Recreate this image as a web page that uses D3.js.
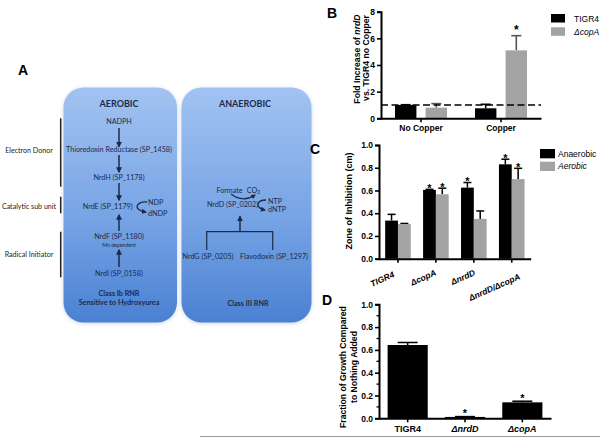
<!DOCTYPE html>
<html><head><meta charset="utf-8">
<script src="https://cdn.jsdelivr.net/npm/d3@7"></script>
<style>body{margin:0;background:#fff} svg{display:block}</style>
</head><body><svg id="c" width="600" height="438"></svg>
<script>
// ---------- Panel B data ----------
const bCategories = ["No Copper", "Copper"];
const bSeries = ["TIGR4", "ΔcopA"];
const bTIGR4 = [1.0, 0.75];
const bTIGR4Err = [0.02, 0.3];
const bCopA = [0.8, 5.1];
const bCopAErr = [0.3, 1.1];
const bCopAStar = [false, true];
const bBaseline = 1.0;
const bTicks = [0, 2, 4, 6, 8];

// ---------- Panel C data ----------
const cCategories = ["TIGR4", "ΔcopA", "ΔnrdD", "ΔnrdD/ΔcopA"];
const cSeries = ["Anaerobic", "Aerobic"];
const cAnaerobic = [0.335, 0.605, 0.625, 0.83];
const cAnaerobicErr = [0.055, 0.005, 0.045, 0.045];
const cAerobic = [0.305, 0.567, 0.35, 0.70];
const cAerobicErr = [0.005, 0.053, 0.07, 0.095];
const cAnaerobicStar = [false, true, true, true];
const cAerobicStar = [false, true, false, true];
const cTicks = [0, 0.2, 0.4, 0.6, 0.8, 1.0];

// ---------- Panel D data ----------
const dCategories = ["TIGR4", "ΔnrdD", "ΔcopA"];
const dValues = [0.643, 0.012, 0.14];
const dErr = [0.022, 0.003, 0.01];
const dStar = [false, true, true];
const dTicks = [0, 0.2, 0.4, 0.6, 0.8, 1.0];
const dMinorTicks = [0.1, 0.3, 0.5, 0.7, 0.9];

const svg = d3.select("#c");
const ARIAL = "'Liberation Sans', Arial, sans-serif";
const CAL = "Lato, 'Open Sans', sans-serif";
const NAVY = "#1c2a4a";

function rich(sel, str) {
  str.split("~").forEach((p, i) => {
    if (!p) return;
    sel.append("tspan").attr("font-style", i % 2 ? "italic" : null).text(p);
  });
}
function styleAxis(g) {
  g.select(".domain").attr("stroke", "#000").attr("stroke-width", 2);
  g.selectAll(".tick line").attr("stroke", "#000").attr("stroke-width", 1.6);
  g.selectAll(".tick text").attr("font-family", ARIAL).attr("font-weight", "bold").attr("fill", "#000");
}

// =================== PANEL A ===================
const defs = svg.append("defs");
const grad = defs.append("linearGradient").attr("id", "boxg").attr("x1", 0).attr("y1", 0).attr("x2", 0).attr("y2", 1);
grad.append("stop").attr("offset", "0%").attr("stop-color", "#a2c3f2");
grad.append("stop").attr("offset", "55%").attr("stop-color", "#77a4e5");
grad.append("stop").attr("offset", "100%").attr("stop-color", "#4a81d2");
const sh = defs.append("filter").attr("id", "sh").attr("x", "-10%").attr("y", "-10%").attr("width", "120%").attr("height", "120%");
sh.append("feDropShadow").attr("dx", 0).attr("dy", 1).attr("stdDeviation", 2).attr("flood-color", "#7a8fb0").attr("flood-opacity", 0.35);

const A = svg.append("g");
A.append("text").attr("x", 23).attr("y", 75).attr("text-anchor", "middle")
  .attr("font-family", ARIAL).attr("font-weight", "bold").attr("font-size", 14).text("A");

const boxes = [{x: 63.5, w: 113.5}, {x: 181.5, w: 130}];
boxes.forEach(b => {
  A.append("rect").attr("x", b.x).attr("y", 87.5).attr("width", b.w).attr("height", 235)
    .attr("rx", 20).attr("ry", 20).attr("fill", "url(#boxg)").attr("filter", "url(#sh)");
});

function atext(x, y, t, opts = {}) {
  return A.append("text").attr("x", x).attr("y", y).attr("text-anchor", opts.anchor || "middle")
    .attr("dominant-baseline", "central")
    .attr("font-family", CAL).attr("font-size", opts.size || 7.2)
    .attr("font-weight", opts.bold ? "bold" : null)
    .attr("fill", opts.fill || NAVY).text(t);
}
const ah = defs.append("marker").attr("id", "ah").attr("viewBox", "0 0 10 10").attr("refX", 8).attr("refY", 5)
  .attr("markerWidth", 4).attr("markerHeight", 4).attr("orient", "auto");
ah.append("path").attr("d", "M0,0 L10,5 L0,10 z").attr("fill", NAVY);
function arrow(x1, y1, x2, y2) {
  A.append("line").attr("x1", x1).attr("y1", y1).attr("x2", x2).attr("y2", y2)
    .attr("stroke", NAVY).attr("stroke-width", 1.5).attr("marker-end", "url(#ah)");
}

// aerobic
atext(119, 103.5, "AEROBIC", {bold: true, size: 9});
atext(119, 121.7, "NADPH");
arrow(119, 128, 119, 146.5);
atext(119, 149.3, "Thioredoxin Reductase (SP_1458)");
arrow(119, 155, 119, 172);
atext(119, 177.3, "NrdH (SP_1178)");
arrow(119, 183, 119, 200);
atext(107.7, 206, "NrdE (SP_1179)");
A.append("path").attr("d", "M147,202 C136,201 132,210 146,212").attr("fill", "none")
  .attr("stroke", NAVY).attr("stroke-width", 1.3).attr("marker-end", "url(#ah)");
atext(148, 202.7, "NDP", {anchor: "start"});
atext(148, 213, "dNDP", {anchor: "start"});
arrow(119, 231, 119, 215);
atext(119, 236.7, "NrdF (SP_1180)");
atext(119, 245, "Mn dependent", {size: 5.2});
arrow(119, 267, 119, 250);
atext(119, 273.3, "NrdI (SP_0158)");
atext(119, 293.3, "Class Ib RNR", {bold: true});
atext(119, 302.7, "Sensitive to Hydroxyurea", {bold: true});

// anaerobic
atext(245, 103.5, "ANAEROBIC", {bold: true, size: 9});
atext(229.5, 190, "Formate");
const co2 = atext(253.5, 190, "CO");
co2.append("tspan").attr("font-size", 5).attr("dy", 2).text("2");
A.append("path").attr("d", "M231,194 Q243,203 255,195").attr("fill", "none")
  .attr("stroke", NAVY).attr("stroke-width", 1.2).attr("marker-end", "url(#ah)");
atext(232.5, 204, "NrdD (SP_0202)");
A.append("path").attr("d", "M266,200 C256,200 255,208 265,210").attr("fill", "none")
  .attr("stroke", NAVY).attr("stroke-width", 1.3).attr("marker-end", "url(#ah)");
atext(268, 201, "NTP", {anchor: "start"});
atext(268, 209.5, "dNTP", {anchor: "start"});
arrow(240, 231.7, 240, 216.5);
A.append("path").attr("d", "M206.7,250 V231.7 H272.7 V250").attr("fill", "none")
  .attr("stroke", NAVY).attr("stroke-width", 1.2);
atext(208, 256.7, "NrdG (SP_0205)");
atext(274, 256.7, "Flavodoxin (SP_1297)");
atext(248, 303.3, "Class III RNR", {bold: true});

// left side labels and brackets
[["Electron Donor", 150, 118.3, 186.7], ["Catalytic sub unit", 206.7, 196.7, 213.3], ["Radical Initiator", 254, 231.7, 277.3]]
  .forEach(([t, y, y1, y2]) => {
    atext(29, y, t, {fill: "#222", size: 7.1});
    A.append("line").attr("x1", 60.7).attr("x2", 60.7).attr("y1", y1).attr("y2", y2)
      .attr("stroke", "#222").attr("stroke-width", 1.5);
  });

// =================== PANEL B ===================
const B = svg.append("g");
const bx = d3.scaleBand().domain(bCategories).range([381, 541]).padding(0);
const by = d3.scaleLinear().domain([0, 8]).range([118.3, 11.7]);
const bInner = d3.scaleBand().domain(bSeries).range([-26, 26]).paddingInner(0.3);
const bColors = {"TIGR4": "#000", "ΔcopA": "#a3a3a3"};
const bData = [];
bCategories.forEach((c, i) => {
  bData.push({c, s: "TIGR4", v: bTIGR4[i], e: bTIGR4Err[i], star: false, ec: "#000"});
  bData.push({c, s: "ΔcopA", v: bCopA[i], e: bCopAErr[i], star: bCopAStar[i], ec: "#555"});
});
bData.forEach(d => {
  const x0 = bx(d.c) + bx.bandwidth() / 2 + bInner(d.s);
  const xc = x0 + bInner.bandwidth() / 2;
  B.append("line").attr("x1", xc).attr("x2", xc).attr("y1", by(d.v)).attr("y2", by(d.v + d.e)).attr("stroke", d.ec).attr("stroke-width", 1.6);
  B.append("line").attr("x1", xc - 5).attr("x2", xc + 5).attr("y1", by(d.v + d.e)).attr("y2", by(d.v + d.e)).attr("stroke", d.ec).attr("stroke-width", 1.6);
  B.append("rect").attr("x", x0).attr("y", by(d.v)).attr("width", bInner.bandwidth()).attr("height", by(0) - by(d.v)).attr("fill", bColors[d.s]);
  if (d.star) B.append("text").attr("x", xc).attr("y", by(d.v + d.e) - 2).attr("text-anchor", "middle")
    .attr("font-family", ARIAL).attr("font-weight", "bold").attr("font-size", 12).text("*");
});
const bYAxis = B.append("g").attr("transform", "translate(381,0)").call(d3.axisLeft(by).tickValues(bTicks).tickSize(4).tickPadding(2));
styleAxis(bYAxis); bYAxis.selectAll(".tick text").attr("font-size", 8.5);
const bXAxis = B.append("g").attr("transform", "translate(0,118.3)").call(d3.axisBottom(bx).tickSize(4).tickPadding(3).tickSizeOuter(0));
styleAxis(bXAxis); bXAxis.selectAll(".tick text").attr("font-size", 8.5);
B.append("line").attr("x1", 381).attr("x2", 541).attr("y1", by(bBaseline)).attr("y2", by(bBaseline))
  .attr("stroke", "#000").attr("stroke-width", 1.6).attr("stroke-dasharray", "7,3.5");
const bLab = B.append("text").attr("transform", "translate(360,59) rotate(-90)").attr("text-anchor", "middle")
  .attr("font-family", ARIAL).attr("font-weight", "bold").attr("font-size", 8.7);
rich(bLab, "Fold Increase of ~nrdD~");
B.append("text").attr("transform", "translate(368.5,58) rotate(-90)").attr("text-anchor", "middle")
  .attr("font-family", ARIAL).attr("font-weight", "bold").attr("font-size", 8.7).text("vs. TIGR4 no Copper");
bSeries.forEach((s, i) => {
  B.append("rect").attr("x", 551).attr("y", 14 + i * 13.3).attr("width", 14).attr("height", 8.5).attr("fill", bColors[s]);
  B.append("text").attr("x", 574).attr("y", 18.5 + i * 13.3).attr("dominant-baseline", "central")
    .attr("font-family", ARIAL).attr("font-size", 8.5).attr("font-style", i ? "italic" : null).text(s);
});
svg.append("text").attr("x", 327).attr("y", 18).attr("font-family", ARIAL).attr("font-weight", "bold").attr("font-size", 14).text("B");

// =================== PANEL C ===================
const C = svg.append("g");
const cx = d3.scaleBand().domain(cCategories).range([379, 530.7]).padding(0);
const cy = d3.scaleLinear().domain([0, 1]).range([258.7, 145]);
const cInner = d3.scaleBand().domain(cSeries).range([-12.8, 12.8]).padding(0);
const cColors = {"Anaerobic": "#000", "Aerobic": "#a3a3a3"};
const cData = [];
cCategories.forEach((c, i) => {
  cData.push({c, s: "Anaerobic", v: cAnaerobic[i], e: cAnaerobicErr[i], star: cAnaerobicStar[i]});
  cData.push({c, s: "Aerobic", v: cAerobic[i], e: cAerobicErr[i], star: cAerobicStar[i]});
});
cData.forEach(d => {
  const x0 = cx(d.c) + cx.bandwidth() / 2 + cInner(d.s);
  const xc = x0 + cInner.bandwidth() / 2;
  C.append("line").attr("x1", xc).attr("x2", xc).attr("y1", cy(d.v)).attr("y2", cy(d.v + d.e)).attr("stroke", "#000").attr("stroke-width", 1.5);
  C.append("line").attr("x1", xc - 4).attr("x2", xc + 4).attr("y1", cy(d.v + d.e)).attr("y2", cy(d.v + d.e)).attr("stroke", "#000").attr("stroke-width", 1.5);
  C.append("rect").attr("x", x0).attr("y", cy(d.v)).attr("width", cInner.bandwidth()).attr("height", cy(0) - cy(d.v)).attr("fill", cColors[d.s]);
  if (d.star) C.append("text").attr("x", xc).attr("y", cy(d.v + d.e) + 2.5).attr("text-anchor", "middle")
    .attr("font-family", ARIAL).attr("font-weight", "bold").attr("font-size", 11).text("*");
});
const cYAxis = C.append("g").attr("transform", "translate(379,0)").call(d3.axisLeft(cy).tickValues(cTicks).tickFormat(d3.format(".1f")).tickSize(4).tickPadding(2));
styleAxis(cYAxis); cYAxis.selectAll(".tick text").attr("font-size", 8.5);
const cXAxis = C.append("g").attr("transform", "translate(0,258.7)").call(d3.axisBottom(cx).tickSize(4).tickSizeOuter(0));
styleAxis(cXAxis);
cXAxis.selectAll(".tick text").attr("font-size", 8.5).attr("font-style", "italic")
  .attr("text-anchor", "end").attr("dy", null).attr("y", null)
  .attr("transform", (d, i) => `translate(${[-3, 1, 2, 9][i]},${[18, 16, 16, 20][i]}) rotate(-24)`);
C.append("text").attr("transform", "translate(351.5,201) rotate(-90)").attr("text-anchor", "middle")
  .attr("font-family", ARIAL).attr("font-weight", "bold").attr("font-size", 9).text("Zone of Inhibition (cm)");
cSeries.forEach((s, i) => {
  C.append("rect").attr("x", 540).attr("y", 149 + i * 12.7).attr("width", 15).attr("height", 9.3).attr("fill", cColors[s]);
  C.append("text").attr("x", 558).attr("y", 153.7 + i * 12.7).attr("dominant-baseline", "central")
    .attr("font-family", ARIAL).attr("font-size", 8.5).attr("font-style", i ? "italic" : null).text(s);
});
svg.append("text").attr("x", 310).attr("y", 154).attr("font-family", ARIAL).attr("font-weight", "bold").attr("font-size", 14).text("C");

// =================== PANEL D ===================
const D = svg.append("g");
const dx = d3.scaleBand().domain(dCategories).range([379, 551]).paddingInner(0.3).paddingOuter(0.15);
const dy = d3.scaleLinear().domain([0, 1]).range([418.3, 304.3]);
dCategories.forEach((c, i) => {
  const x0 = dx(c), xc = x0 + dx.bandwidth() / 2, top = dy(dValues[i] + dErr[i]);
  D.append("line").attr("x1", xc).attr("x2", xc).attr("y1", dy(dValues[i])).attr("y2", top).attr("stroke", "#000").attr("stroke-width", 1.5);
  D.append("line").attr("x1", xc - 10).attr("x2", xc + 10).attr("y1", top).attr("y2", top).attr("stroke", "#000").attr("stroke-width", 1.5);
  D.append("rect").attr("x", x0).attr("y", dy(dValues[i])).attr("width", dx.bandwidth()).attr("height", dy(0) - dy(dValues[i])).attr("fill", "#000");
  if (dStar[i]) D.append("text").attr("x", xc).attr("y", top + 0.5).attr("text-anchor", "middle")
    .attr("font-family", ARIAL).attr("font-weight", "bold").attr("font-size", 11).text("*");
});
const dYAxis = D.append("g").attr("transform", "translate(379,0)").call(d3.axisLeft(dy).tickValues(dTicks).tickFormat(d3.format(".1f")).tickSize(4).tickPadding(2));
styleAxis(dYAxis); dYAxis.selectAll(".tick text").attr("font-size", 8.5);
D.append("g").attr("transform", "translate(379,0)").selectAll("line").data(dMinorTicks).join("line")
  .attr("x1", -2.5).attr("x2", 0).attr("y1", d => dy(d)).attr("y2", d => dy(d)).attr("stroke", "#000").attr("stroke-width", 1.3);
const dXAxis = D.append("g").attr("transform", "translate(0,418.3)").call(d3.axisBottom(dx).tickSize(4).tickPadding(3).tickSizeOuter(0));
styleAxis(dXAxis);
dXAxis.selectAll(".tick text").attr("font-size", 9).attr("font-style", (d, i) => i ? "italic" : null);
D.append("text").attr("transform", "translate(345.5,367) rotate(-90)").attr("text-anchor", "middle")
  .attr("font-family", ARIAL).attr("font-weight", "bold").attr("font-size", 8.6).text("Fraction of Growth Compared");
D.append("text").attr("transform", "translate(356.5,367) rotate(-90)").attr("text-anchor", "middle")
  .attr("font-family", ARIAL).attr("font-weight", "bold").attr("font-size", 8.6).text("to Nothing Added");
svg.append("text").attr("x", 322).attr("y", 305).attr("font-family", ARIAL).attr("font-weight", "bold").attr("font-size", 14).text("D");

svg.append("line").attr("x1", 200).attr("x2", 600).attr("y1", 436.5).attr("y2", 436.5).attr("stroke", "#999").attr("stroke-width", 1);
</script></body></html>
